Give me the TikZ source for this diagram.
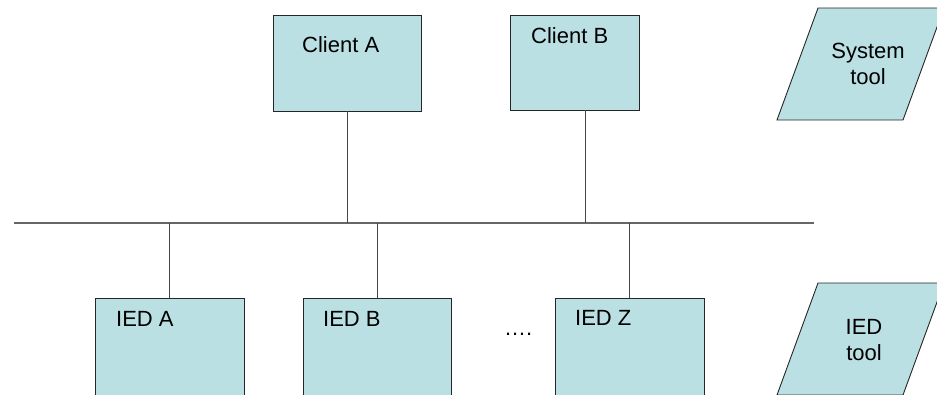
\documentclass[tikz,border=0pt]{standalone}
\usepackage{fontspec}
\setmainfont{Liberation Sans}
\definecolor{boxfill}{RGB}{187,224,227}
\definecolor{wire}{RGB}{70,70,70}
\begin{document}
\begin{tikzpicture}
  [x=1pt,y=-1pt,
   box/.style={draw=black!85,fill=boxfill,line width=0.9pt,inner sep=0pt},
   lbl/.style={inner sep=0pt,anchor=base west,font=\fontsize{22}{26}\selectfont},
   tool/.style={inner sep=0pt,align=center,font=\fontsize{22}{26}\selectfont},
   wire/.style={draw=wire,line width=0.9pt}]
  \useasboundingbox (0,0) rectangle (937,394);
  \clip (0,0) rectangle (937,394);

  \node[box,minimum width=148pt,minimum height=96pt] (ca) at (347,63) {};
  \node[box,minimum width=129pt,minimum height=95pt] (cb) at (574.5,62.5) {};
  \node[box,minimum width=149pt,minimum height=140pt] (ia) at (169.5,368) {};
  \node[box,minimum width=148pt,minimum height=140pt] (ib) at (377,368) {};
  \node[box,minimum width=149pt,minimum height=140pt] (iz) at (629.5,368) {};

  \node[lbl] (caT) at (302,52) {Client A};
  \node[lbl] (cbT) at (531,43) {Client B};
  \node[lbl] (iaT) at (116,326) {IED A};
  \node[lbl] (ibT) at (323,326) {IED B};
  \node[lbl] (izT) at (575,325) {IED Z};
  \node[lbl] (dots) at (504,335) {….};

  \draw[box] (818,8) -- (944,8) -- (903,120) -- (777,120) -- cycle;
  \draw[box] (818,283) -- (944,283) -- (903,395) -- (777,395) -- cycle;
  \node[tool] (st) at (868,64) {System\\tool};
  \node[tool] (it) at (864,340) {IED\\tool};

  \coordinate (busL) at (14,223);
  \coordinate (busR) at (814,223);
  \draw[draw=black!60,line width=1.6pt] (busL) -- (busR);

  \draw[wire] (ca.south) -- (ca.south |- busL);
  \draw[wire] ([xshift=10.5pt]cb.south) -- ([xshift=10.5pt]cb.south |- busL);
  \draw[wire] (ia.north) -- (ia.north |- busL);
  \draw[wire] (ib.north) -- (ib.north |- busL);
  \draw[wire] (iz.north) -- (iz.north |- busL);

\end{tikzpicture}
\end{document}
